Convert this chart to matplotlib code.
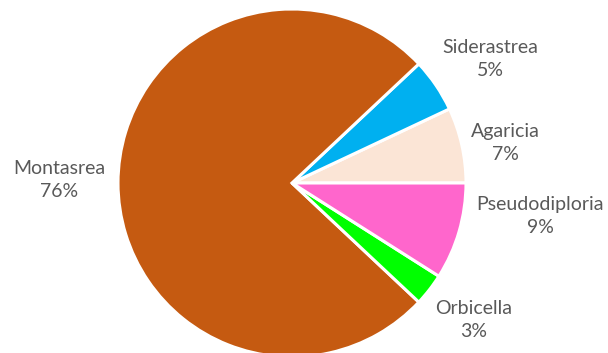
import matplotlib
matplotlib.use('Agg')
import matplotlib.pyplot as plt

labels = ['Agaricia', 'Siderastrea', 'Montasrea', 'Orbicella', 'Pseudodiploria']
shares = [7, 5, 76, 3, 9]
colors = ['#FBE5D6', '#00B0F0', '#C55A11', '#00FF00', '#FF66CC']
# label centres in data units (pie radius = 1)
label_pos = [(1.224, 0.23), (1.138, 0.713), (-1.339, 0.017), (1.046, -0.787), (1.425, -0.19)]

plt.rcParams['font.family'] = ['Lato', 'DejaVu Sans']

fig = plt.figure(figsize=(6.08, 3.53), dpi=100)
ax = fig.add_axes([0, 0, 1, 1])
wedges, _ = ax.pie(shares, colors=colors, startangle=0, counterclock=True,
                   wedgeprops=dict(edgecolor='white', linewidth=2.2))
total = sum(shares)
for name, val, (x, y) in zip(labels, shares, label_pos):
    ax.text(x, y, f'{name}\n{round(100 * val / total)}%', ha='center', va='center',
            multialignment='center', fontsize=14, color='#595959', linespacing=1.45)

ax.set_xlim(-292 / 174, 316 / 174)
ax.set_ylim(-170 / 174, 183 / 174)
ax.set_aspect('auto')
ax.axis('off')
fig.savefig('out.png', dpi=100)
